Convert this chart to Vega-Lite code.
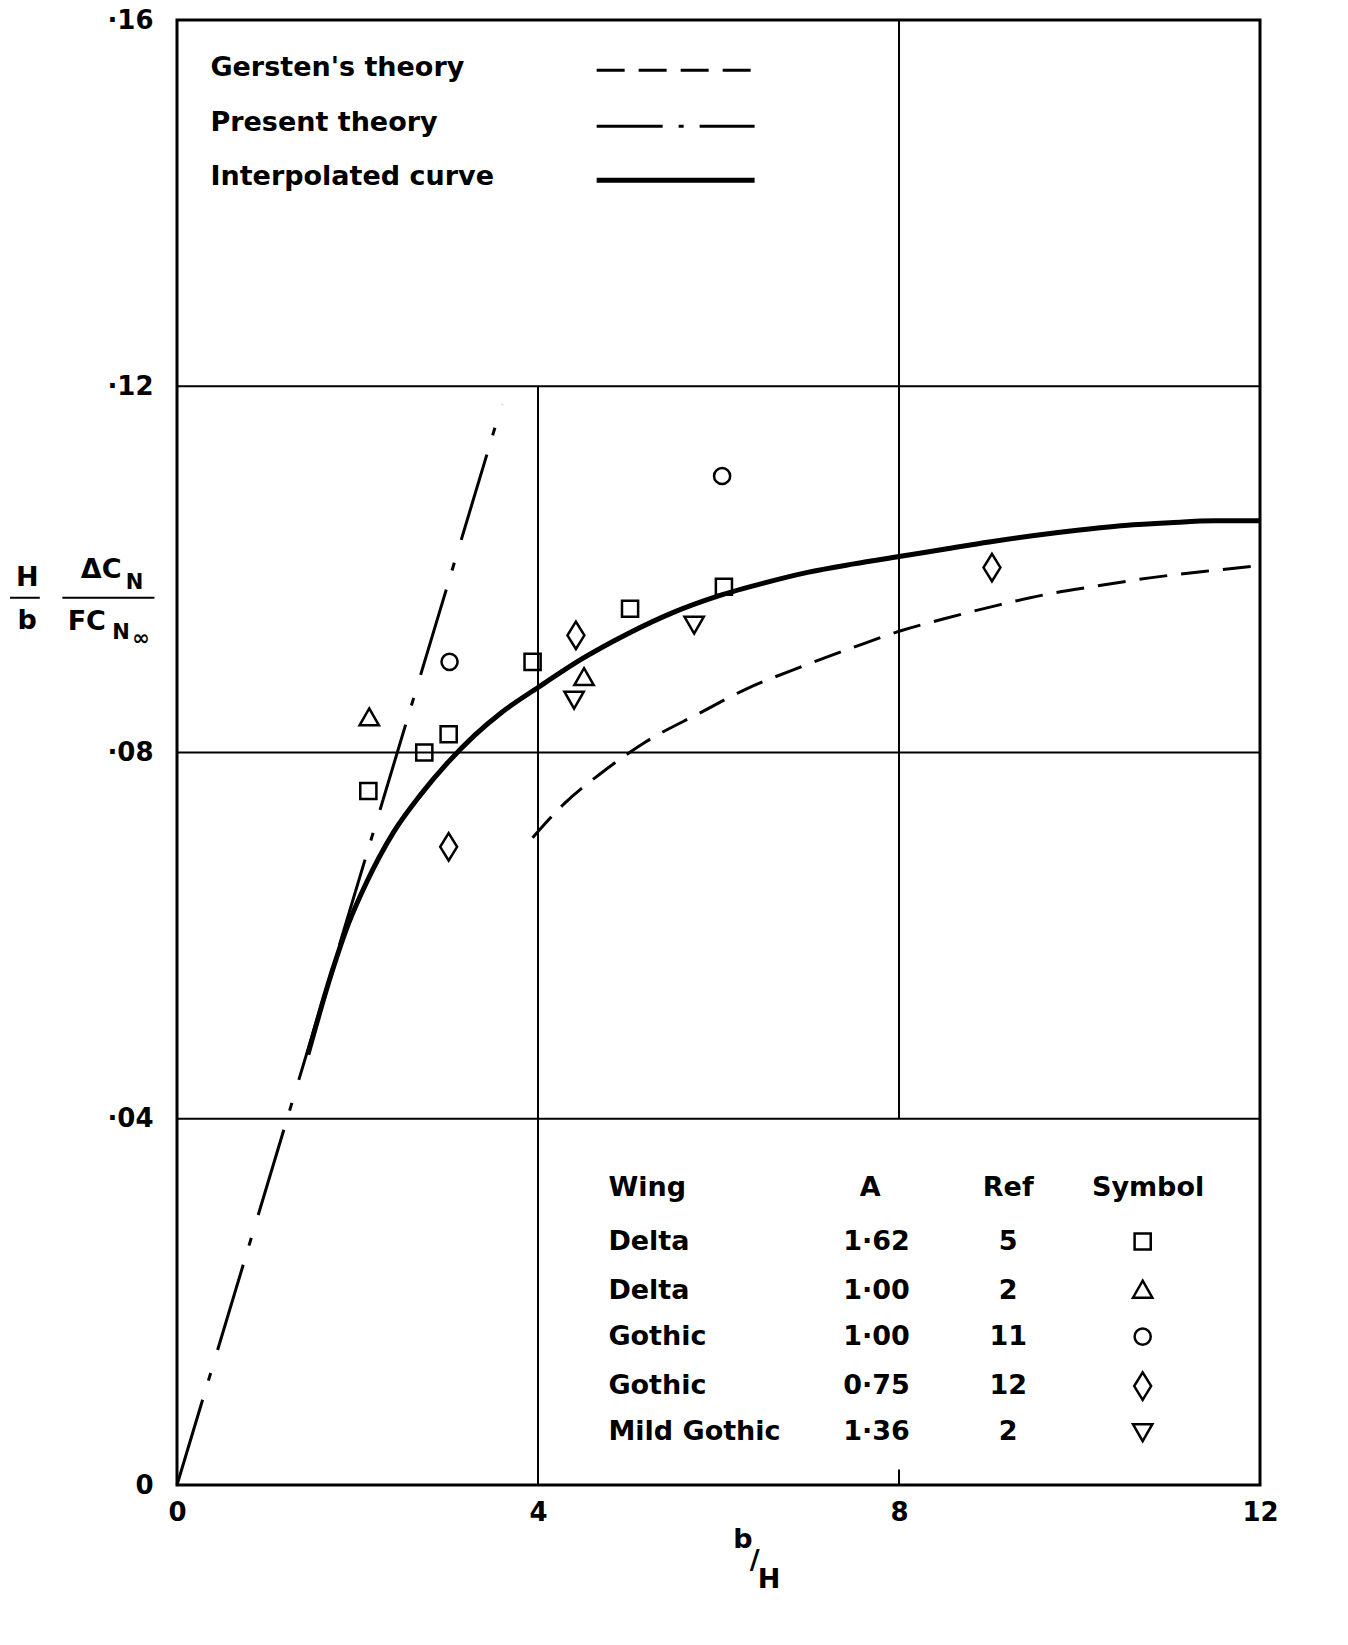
{
  "$schema": "https://vega.github.io/schema/vega-lite/v6.json",
  "width": 1083,
  "height": 1465,
  "autosize": {"type": "none"},
  "padding": {"left": 177, "top": 20, "right": 88, "bottom": 160},
  "background": "white",
  "config": {
    "view": {"stroke": "black", "strokeWidth": 3},
    "font": "DejaVu Sans",
    "text": {"font": "DejaVu Sans", "color": "black"}
  },
  "datasets": {
    "grid": [
      {"x": 0, "x2": 12, "y": 0.04, "y2": 0.04},
      {"x": 0, "x2": 12, "y": 0.08, "y2": 0.08},
      {"x": 0, "x2": 12, "y": 0.12, "y2": 0.12},
      {"x": 4, "x2": 4, "y": 0, "y2": 0.12},
      {"x": 8, "x2": 8, "y": 0.04, "y2": 0.16},
      {"x": 8, "x2": 8, "y": 0, "y2": 0.0017},
      {"x": -1.85, "x2": -1.52, "y": 0.0969, "y2": 0.0969},
      {"x": -1.27, "x2": -0.25, "y": 0.0969, "y2": 0.0969}
    ],
    "curves": [
      {"curve": "Gersten", "part": "curve", "x": 3.94, "y": 0.0707},
      {"curve": "Gersten", "part": "curve", "x": 4.3, "y": 0.0745},
      {"curve": "Gersten", "part": "curve", "x": 4.68, "y": 0.0776},
      {"curve": "Gersten", "part": "curve", "x": 5.2, "y": 0.0812},
      {"curve": "Gersten", "part": "curve", "x": 5.79, "y": 0.0843},
      {"curve": "Gersten", "part": "curve", "x": 6.3, "y": 0.0869},
      {"curve": "Gersten", "part": "curve", "x": 6.9, "y": 0.0893},
      {"curve": "Gersten", "part": "curve", "x": 7.5, "y": 0.0915},
      {"curve": "Gersten", "part": "curve", "x": 8.02, "y": 0.0933},
      {"curve": "Gersten", "part": "curve", "x": 8.5, "y": 0.0946},
      {"curve": "Gersten", "part": "curve", "x": 9.1, "y": 0.0961},
      {"curve": "Gersten", "part": "curve", "x": 9.6, "y": 0.0972},
      {"curve": "Gersten", "part": "curve", "x": 10.2, "y": 0.0982},
      {"curve": "Gersten", "part": "curve", "x": 10.8, "y": 0.0991},
      {"curve": "Gersten", "part": "curve", "x": 11.4, "y": 0.0998},
      {"curve": "Gersten", "part": "curve", "x": 12.0, "y": 0.1004},
      {"curve": "Gersten", "part": "key", "x": 4.65, "y": 0.1545},
      {"curve": "Gersten", "part": "key", "x": 6.4, "y": 0.1545},
      {"curve": "Present", "part": "curve", "x": 0, "y": 0},
      {"curve": "Present", "part": "curve", "x": 3.6, "y": 0.118},
      {"curve": "Present", "part": "key", "x": 4.65, "y": 0.1484},
      {"curve": "Present", "part": "key", "x": 6.4, "y": 0.1484},
      {"curve": "Interpolated", "part": "curve", "x": 1.45, "y": 0.047},
      {"curve": "Interpolated", "part": "curve", "x": 1.7, "y": 0.0555},
      {"curve": "Interpolated", "part": "curve", "x": 1.9, "y": 0.0613},
      {"curve": "Interpolated", "part": "curve", "x": 2.1, "y": 0.0658},
      {"curve": "Interpolated", "part": "curve", "x": 2.4, "y": 0.0713},
      {"curve": "Interpolated", "part": "curve", "x": 2.7, "y": 0.0754},
      {"curve": "Interpolated", "part": "curve", "x": 3.0, "y": 0.0789},
      {"curve": "Interpolated", "part": "curve", "x": 3.3, "y": 0.0819},
      {"curve": "Interpolated", "part": "curve", "x": 3.6, "y": 0.0844},
      {"curve": "Interpolated", "part": "curve", "x": 4.0, "y": 0.0871},
      {"curve": "Interpolated", "part": "curve", "x": 4.5, "y": 0.0903},
      {"curve": "Interpolated", "part": "curve", "x": 5.0, "y": 0.0930},
      {"curve": "Interpolated", "part": "curve", "x": 5.5, "y": 0.0953},
      {"curve": "Interpolated", "part": "curve", "x": 6.0, "y": 0.0971},
      {"curve": "Interpolated", "part": "curve", "x": 6.5, "y": 0.0985},
      {"curve": "Interpolated", "part": "curve", "x": 7.0, "y": 0.0997},
      {"curve": "Interpolated", "part": "curve", "x": 7.5, "y": 0.1006},
      {"curve": "Interpolated", "part": "curve", "x": 8.0, "y": 0.1014},
      {"curve": "Interpolated", "part": "curve", "x": 8.5, "y": 0.1022},
      {"curve": "Interpolated", "part": "curve", "x": 9.0, "y": 0.1030},
      {"curve": "Interpolated", "part": "curve", "x": 9.5, "y": 0.1037},
      {"curve": "Interpolated", "part": "curve", "x": 10.0, "y": 0.1043},
      {"curve": "Interpolated", "part": "curve", "x": 10.5, "y": 0.1048},
      {"curve": "Interpolated", "part": "curve", "x": 11.0, "y": 0.1051},
      {"curve": "Interpolated", "part": "curve", "x": 11.5, "y": 0.1053},
      {"curve": "Interpolated", "part": "curve", "x": 12.0, "y": 0.1053},
      {"curve": "Interpolated", "part": "key", "x": 4.65, "y": 0.1425},
      {"curve": "Interpolated", "part": "key", "x": 6.4, "y": 0.1425}
    ],
    "points": [
      {"wing": "Delta 1·62", "x": 2.12, "y": 0.0758},
      {"wing": "Delta 1·62", "x": 2.74, "y": 0.0800},
      {"wing": "Delta 1·62", "x": 3.01, "y": 0.0820},
      {"wing": "Delta 1·62", "x": 3.94, "y": 0.0899},
      {"wing": "Delta 1·62", "x": 5.02, "y": 0.0957},
      {"wing": "Delta 1·62", "x": 6.06, "y": 0.0981},
      {"wing": "Delta 1·00", "x": 2.13, "y": 0.0838},
      {"wing": "Delta 1·00", "x": 4.51, "y": 0.0882},
      {"wing": "Gothic 1·00", "x": 3.02, "y": 0.0899},
      {"wing": "Gothic 1·00", "x": 6.04, "y": 0.1102},
      {"wing": "Gothic 0·75", "x": 3.01, "y": 0.0697},
      {"wing": "Gothic 0·75", "x": 4.42, "y": 0.0928},
      {"wing": "Gothic 0·75", "x": 9.03, "y": 0.1002},
      {"wing": "Mild Gothic 1·36", "x": 4.40, "y": 0.0858},
      {"wing": "Mild Gothic 1·36", "x": 5.73, "y": 0.0940},
      {"wing": "Delta 1·62", "x": 10.7, "y": 0.0266},
      {"wing": "Delta 1·00", "x": 10.7, "y": 0.0213},
      {"wing": "Gothic 1·00", "x": 10.7, "y": 0.0162},
      {"wing": "Gothic 0·75", "x": 10.7, "y": 0.0108},
      {"wing": "Mild Gothic 1·36", "x": 10.7, "y": 0.0058}
    ],
    "labels": [
      {"kind": "left", "size": "big", "label": "Gersten's  theory", "x": 0.37, "y": 0.1548},
      {"kind": "left", "size": "big", "label": "Present  theory", "x": 0.37, "y": 0.1488},
      {"kind": "left", "size": "big", "label": "Interpolated  curve", "x": 0.37, "y": 0.1428},
      {"kind": "left", "size": "big", "label": "Wing", "x": 4.78, "y": 0.0324},
      {"kind": "left", "size": "big", "label": "Delta", "x": 4.78, "y": 0.0265},
      {"kind": "left", "size": "big", "label": "Delta", "x": 4.78, "y": 0.0212},
      {"kind": "left", "size": "big", "label": "Gothic", "x": 4.78, "y": 0.0162},
      {"kind": "left", "size": "big", "label": "Gothic", "x": 4.78, "y": 0.0108},
      {"kind": "left", "size": "big", "label": "Mild Gothic", "x": 4.78, "y": 0.0058},
      {"kind": "center", "size": "big", "label": "A", "x": 7.68, "y": 0.0324},
      {"kind": "center", "size": "big", "label": "1·62", "x": 7.75, "y": 0.0265},
      {"kind": "center", "size": "big", "label": "1·00", "x": 7.75, "y": 0.0212},
      {"kind": "center", "size": "big", "label": "1·00", "x": 7.75, "y": 0.0162},
      {"kind": "center", "size": "big", "label": "0·75", "x": 7.75, "y": 0.0108},
      {"kind": "center", "size": "big", "label": "1·36", "x": 7.75, "y": 0.0058},
      {"kind": "center", "size": "big", "label": "Ref", "x": 9.21, "y": 0.0324},
      {"kind": "center", "size": "big", "label": "5", "x": 9.21, "y": 0.0265},
      {"kind": "center", "size": "big", "label": "2", "x": 9.21, "y": 0.0212},
      {"kind": "center", "size": "big", "label": "11", "x": 9.21, "y": 0.0162},
      {"kind": "center", "size": "big", "label": "12", "x": 9.21, "y": 0.0108},
      {"kind": "center", "size": "big", "label": "2", "x": 9.21, "y": 0.0058},
      {"kind": "center", "size": "big", "label": "Symbol", "x": 10.76, "y": 0.0324},
      {"kind": "center", "size": "big", "label": "H", "x": -1.66, "y": 0.0991},
      {"kind": "center", "size": "big", "label": "b", "x": -1.66, "y": 0.0944},
      {"kind": "center", "size": "big", "label": "ΔC", "x": -0.84, "y": 0.0999},
      {"kind": "center", "size": "small", "label": "N", "x": -0.47, "y": 0.0985},
      {"kind": "center", "size": "big", "label": "FC", "x": -1.0, "y": 0.0943},
      {"kind": "center", "size": "small", "label": "N", "x": -0.62, "y": 0.0931},
      {"kind": "center", "size": "small", "label": "∞", "x": -0.40, "y": 0.0924},
      {"kind": "center", "size": "big", "label": "b", "x": 6.27, "y": -0.0060},
      {"kind": "center", "size": "big", "label": "/", "x": 6.40, "y": -0.0083},
      {"kind": "center", "size": "big", "label": "H", "x": 6.56, "y": -0.0104}
    ]
  },
  "encoding": {
    "x": {
      "field": "x",
      "type": "quantitative",
      "scale": {"domain": [0, 12], "nice": false, "zero": false},
      "axis": {
        "values": [0, 4, 8, 12],
        "title": null,
        "grid": false,
        "ticks": false,
        "domain": false,
        "labelFontSize": 26,
        "labelFontWeight": "bold",
        "labelPadding": 14,
        "labelColor": "black",
        "labelFont": "DejaVu Sans",
        "labelFlush": false
      }
    },
    "y": {
      "field": "y",
      "type": "quantitative",
      "scale": {"domain": [0, 0.16], "nice": false, "zero": false},
      "axis": {
        "values": [0, 0.04, 0.08, 0.12, 0.16],
        "title": null,
        "grid": false,
        "ticks": false,
        "domain": false,
        "labelFontSize": 26,
        "labelFontWeight": "bold",
        "labelPadding": 24,
        "labelColor": "black",
        "labelFont": "DejaVu Sans",
        "labelFlush": false,
        "labelExpr": "datum.value == 0 ? '0' : '·' + slice(format(datum.value, '.2f'), 2)"
      }
    }
  },
  "layer": [
    {
      "data": {"name": "grid"},
      "mark": {"type": "rule", "color": "black", "strokeWidth": 2},
      "encoding": {
        "x2": {"field": "x2"},
        "y2": {"field": "y2"}
      }
    },
    {
      "data": {"name": "curves"},
      "transform": [{"filter": "datum.curve == 'Gersten'"}],
      "mark": {"type": "line", "color": "black", "strokeWidth": 3, "strokeDash": [28, 14], "interpolate": "monotone"},
      "encoding": {"detail": {"field": "part"}}
    },
    {
      "data": {"name": "curves"},
      "transform": [{"filter": "datum.curve == 'Present' && datum.part == 'curve'"}],
      "mark": {"type": "line", "color": "black", "strokeWidth": 3, "strokeDash": [89, 20, 8, 24]},
      "encoding": {"detail": {"field": "part"}}
    },
    {
      "data": {"name": "curves"},
      "transform": [{"filter": "datum.curve == 'Present' && datum.part == 'key'"}],
      "mark": {"type": "line", "color": "black", "strokeWidth": 3, "strokeDash": [66, 16, 5, 16, 90]},
      "encoding": {"detail": {"field": "part"}}
    },
    {
      "data": {"name": "curves"},
      "transform": [{"filter": "datum.curve == 'Interpolated'"}],
      "mark": {"type": "line", "color": "black", "strokeWidth": 5, "interpolate": "monotone"},
      "encoding": {"detail": {"field": "part"}}
    },
    {
      "data": {"name": "points"},
      "mark": {"type": "point", "filled": false, "color": "black", "strokeWidth": 2.5, "size": 260, "opacity": 1},
      "encoding": {
        "shape": {
          "field": "wing",
          "type": "nominal",
          "scale": {
            "domain": ["Delta 1·62", "Delta 1·00", "Gothic 1·00", "Gothic 0·75", "Mild Gothic 1·36"],
            "range": ["square", "M0,-1.15L1.2,0.95L-1.2,0.95Z", "circle", "M0,-1.7L1.05,0L0,1.7L-1.05,0Z", "M0,1.15L1.2,-0.95L-1.2,-0.95Z"]
          },
          "legend": null
        }
      }
    },
    {
      "data": {"name": "labels"},
      "transform": [{"filter": "datum.kind == 'left'"}],
      "mark": {"type": "text", "align": "left", "baseline": "middle", "fontSize": 27, "fontWeight": "bold", "color": "black"},
      "encoding": {"text": {"field": "label"}}
    },
    {
      "data": {"name": "labels"},
      "transform": [{"filter": "datum.kind == 'center' && datum.size == 'big'"}],
      "mark": {"type": "text", "align": "center", "baseline": "middle", "fontSize": 27, "fontWeight": "bold", "color": "black"},
      "encoding": {"text": {"field": "label"}}
    },
    {
      "data": {"name": "labels"},
      "transform": [{"filter": "datum.size == 'small'"}],
      "mark": {"type": "text", "align": "center", "baseline": "middle", "fontSize": 21, "fontWeight": "bold", "color": "black"},
      "encoding": {"text": {"field": "label"}}
    }
  ]
}
